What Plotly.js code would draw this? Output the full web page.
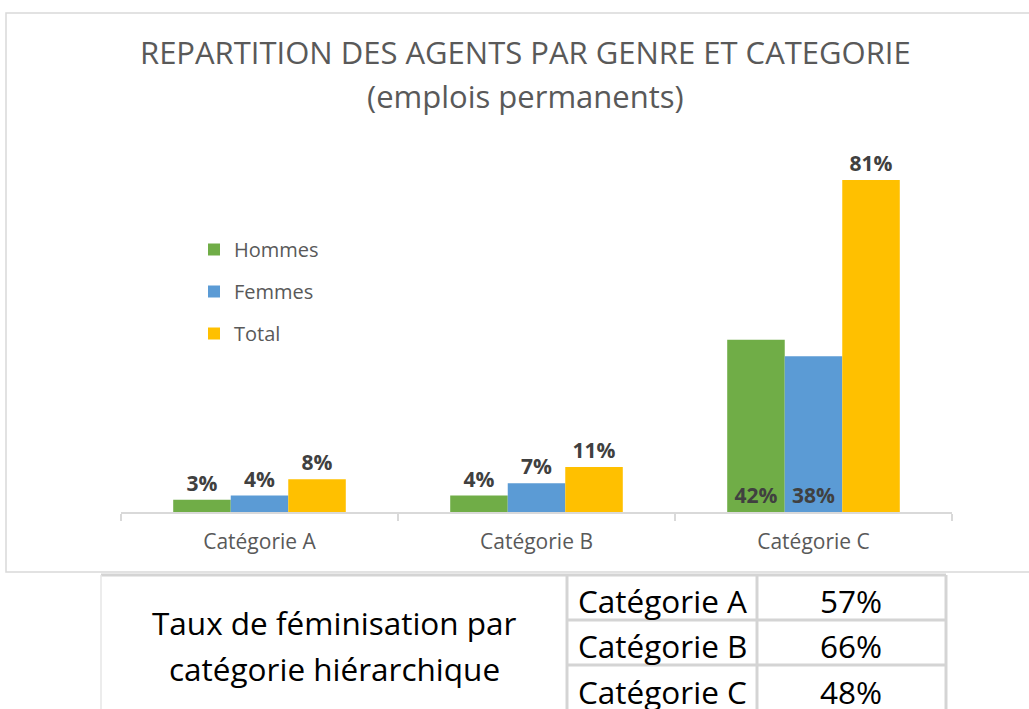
<!DOCTYPE html>
<html>
<head>
<meta charset="utf-8">
<script src="https://cdn.plot.ly/plotly-3.0.1.min.js"></script>
<style>
html,body{margin:0;padding:0;background:#fff;}
#chart{width:1029px;height:709px;}
</style>
</head>
<body>
<div id="chart"></div>
<script>
// ---- data ----
const categories = ['Catégorie A', 'Catégorie B', 'Catégorie C'];
const hommes = [3, 4, 42];
const femmes = [4, 7, 38];
const total = [8, 11, 81];
const titleLine1 = 'REPARTITION DES AGENTS PAR GENRE ET CATEGORIE';
const titleLine2 = '(emplois permanents)';
const tableLabel = ['Taux de féminisation par', 'catégorie hiérarchique'];
const tauxCategories = ['Catégorie A', 'Catégorie B', 'Catégorie C'];
const tauxFeminisation = ['57%', '66%', '48%'];

// ---- layout helpers ----
const W = 1029, H = 709;
const X = px => px / W;
const Y = py => 1 - py / H;
const FONT = '"Open Sans", sans-serif';
const labelFont = {family: FONT, size: 21, color: '#404040', weight: 'bold'};
const pct = arr => arr.map(v => v + '%');

function barTrace(name, vals, color, positions, group) {
  return {
    type: 'bar', name: name, x: categories, y: vals,
    marker: {color: color},
    text: pct(vals), textposition: positions,
    insidetextanchor: 'start',
    textfont: labelFont, insidetextfont: labelFont, outsidetextfont: labelFont,
    constraintext: 'none', cliponaxis: false,
    legendgroup: group, hoverinfo: 'x+y'
  };
}

const traces = [
  barTrace('Hommes', hommes, '#70AD47', ['outside', 'outside', 'inside'], 'h'),
  barTrace('Femmes', femmes, '#5B9BD5', ['outside', 'outside', 'inside'], 'f'),
  barTrace('Total', total, '#FFC000', ['outside', 'outside', 'outside'], 't')
];

const titleFont = {family: FONT, size: 31, color: '#595959'};
const annotations = [
  {text: titleLine1, x: X(525), y: Y(52), xref: 'paper', yref: 'paper', showarrow: false,
   xanchor: 'center', yanchor: 'middle', font: titleFont},
  {text: titleLine2, x: X(525), y: Y(96), xref: 'paper', yref: 'paper', showarrow: false,
   xanchor: 'center', yanchor: 'middle', font: titleFont}
];
const tableFont = {family: FONT, size: 31.5, color: '#000000'};
tableLabel.forEach((t, i) => annotations.push({
  text: t, x: X(334), y: Y(622 + 46 * i), xref: 'paper', yref: 'paper', showarrow: false,
  xanchor: 'center', yanchor: 'middle', font: tableFont
}));
tauxCategories.forEach((c, i) => {
  const yc = 600 + 45.5 * i;
  annotations.push({text: c, x: X(662), y: Y(yc), xref: 'paper', yref: 'paper', showarrow: false,
    xanchor: 'center', yanchor: 'middle', font: tableFont});
  annotations.push({text: tauxFeminisation[i], x: X(851), y: Y(yc), xref: 'paper', yref: 'paper', showarrow: false,
    xanchor: 'center', yanchor: 'middle', font: tableFont});
});

const lineC = '#D4D4D4';
function seg(x0, y0, x1, y1, w, c) {
  return {type: 'line', xref: 'paper', yref: 'paper', x0: X(x0), y0: Y(y0), x1: X(x1), y1: Y(y1),
    line: {color: c || lineC, width: w || 3}, layer: 'above'};
}
const shapes = [
  // chart frame
  {type: 'rect', xref: 'paper', yref: 'paper', x0: X(6), y0: Y(572), x1: X(1040), y1: Y(13),
   line: {color: '#D9D9D9', width: 1.5}, layer: 'below'},
  // table grid
  seg(101, 575, 946, 575),
  seg(101, 575, 101, 712, 1.5, '#E6E6E6'),
  seg(567, 575, 567, 712),
  seg(757, 575, 757, 712),
  seg(946, 575, 946, 712),
  seg(567, 620, 946, 620),
  seg(567, 665, 946, 665)
];

const layout = {
  width: W, height: H,
  margin: {l: 0, r: 0, t: 0, b: 0},
  paper_bgcolor: '#ffffff', plot_bgcolor: 'rgba(0,0,0,0)',
  barmode: 'group', bargap: 0.377, bargroupgap: 0,
  showlegend: true,
  legend: {x: X(194), y: Y(230), xanchor: 'left', yanchor: 'top',
    font: {family: FONT, size: 20, color: '#595959'},
    bgcolor: 'rgba(0,0,0,0)', tracegroupgap: 13, traceorder: 'grouped'},
  xaxis: {domain: [X(121), X(952)], type: 'category',
    showline: true, linecolor: '#D9D9D9', linewidth: 1.5,
    ticks: 'outside', tickson: 'boundaries', ticklen: 7, tickcolor: '#D9D9D9', tickwidth: 1.5,
    ticklabelstandoff: 10,
    tickfont: {family: FONT, size: 21, color: '#595959'}, fixedrange: true},
  yaxis: {domain: [Y(512), Y(143)], range: [0, 90], visible: false, showgrid: false,
    zeroline: false, fixedrange: true},
  annotations: annotations,
  shapes: shapes,
  font: {family: FONT}
};

Plotly.newPlot('chart', traces, layout, {displayModeBar: false, staticPlot: true});
</script>
</body>
</html>
